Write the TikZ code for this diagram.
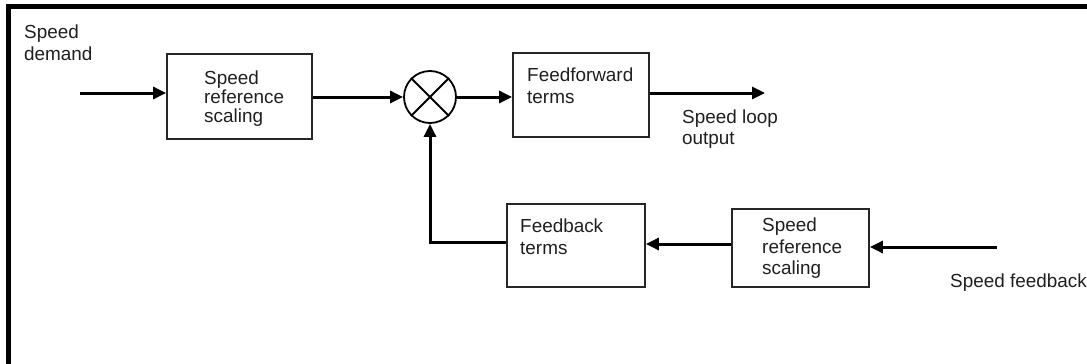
\documentclass[tikz,border=0pt]{standalone}
\usepackage{fontspec}
\setmainfont{Liberation Sans}
\usetikzlibrary{arrows.meta}
\begin{document}
\begin{tikzpicture}[x=1pt,y=-1pt,
  boxst/.style={draw=black!85,line width=1.8pt,rectangle,inner sep=0pt},
  lbl/.style={anchor=base west,inner sep=0pt,text=black!88,font=\fontsize{18.9}{21}\selectfont},
  conn/.style={line width=3pt,black},
  arr/.style={conn,-{Triangle[length=13pt,width=12pt]}}]
\useasboundingbox (0,0) rectangle (1087,364);
% frame (left and top only)
\draw[line width=5pt] (8.5,364) -- (8.5,6.5) -- (1087,6.5);
% boxes
\node[boxst,minimum width=145pt,minimum height=85pt] (b1) at (239.5,96.5) {};
\node[boxst,minimum width=136pt,minimum height=84pt] (ff) at (581,95) {};
\node[boxst,minimum width=138pt,minimum height=83pt] (fb) at (576,245.5) {};
\node[boxst,minimum width=137pt,minimum height=78pt] (b2) at (800.5,248) {};
\node[draw,circle,line width=1.8pt,minimum size=52pt,inner sep=0pt] (c) at (430,97) {};
\draw[line width=1.8pt] (c.north west) -- (c.south east) (c.north east) -- (c.south west);
% texts
\node[lbl] (t1) at (24,38) {Speed};
\node[lbl] (t2) at (24,60) {demand};
\node[lbl] (t3) at (204,84) {Speed};
\node[lbl] (t4) at (204,103) {reference};
\node[lbl] (t5) at (204,122) {scaling};
\node[lbl] (t6) at (527,81) {Feedforward};
\node[lbl] (t7) at (527,103) {terms};
\node[lbl] (t8) at (682,123) {Speed loop};
\node[lbl] (t9) at (682,144) {output};
\node[lbl] (t10) at (520,232) {Feedback};
\node[lbl] (t11) at (520,254) {terms};
\node[lbl] (t12) at (762,231) {Speed};
\node[lbl] (t13) at (762,253) {reference};
\node[lbl] (t14) at (762,274) {scaling};
\node[lbl] (t15) at (950,287) {Speed feedback};
% connectors
\coordinate (in1) at (80,93);
\coordinate (out1) at (765,93);
\coordinate (in2) at (997,247);
\coordinate (fbk) at (0,242.5);
\coordinate (mid) at (0,244);
\draw[arr] (in1) -- (in1 -| b1.west);
\draw[arr] (b1.east |- c) -- (c.west);
\draw[arr] (c.east) -- (c.east -| ff.west);
\draw[arr] (out1 -| ff.east) -- (out1);
\draw[arr] (fbk -| fb.west) -| (c.south);
\draw[arr] (mid -| b2.west) -- (mid -| fb.east);
\draw[arr] (in2) -- (in2 -| b2.east);
\end{tikzpicture}
\end{document}
